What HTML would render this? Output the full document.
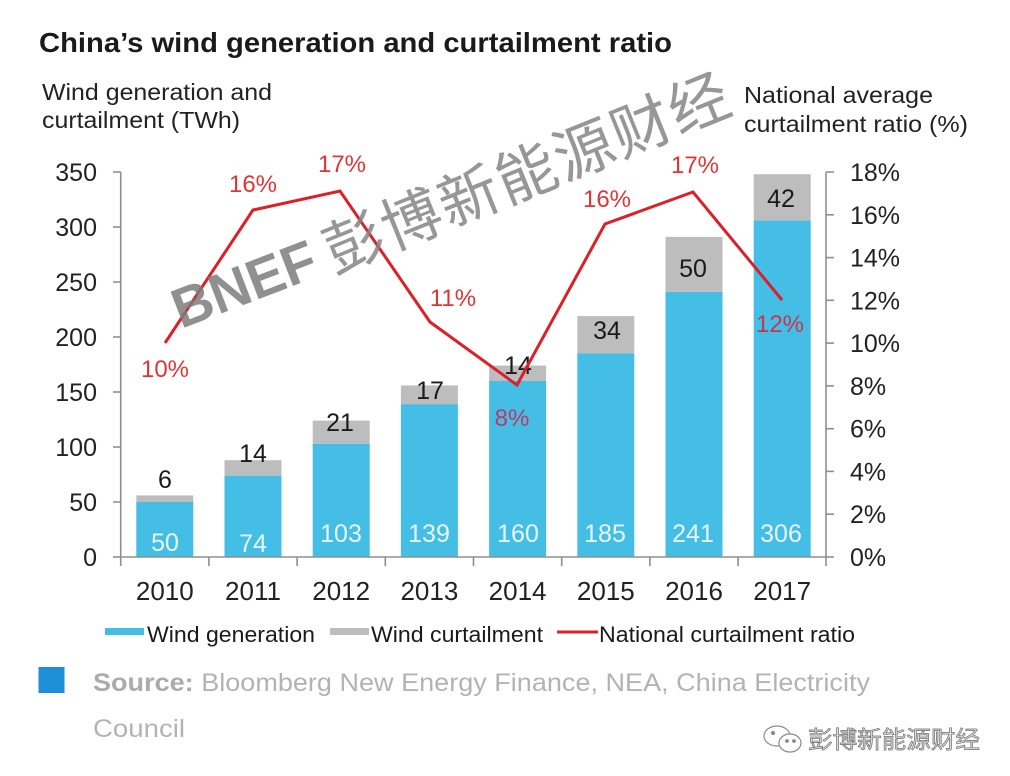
<!DOCTYPE html>
<html>
<head>
<meta charset="utf-8">
<style>
  html,body{margin:0;padding:0;background:#fff;}
  svg{display:block;}
  text{font-family:"Liberation Sans","Noto Sans CJK SC",sans-serif;}
</style>
</head>
<body>
<svg width="1010" height="776" viewBox="0 0 1010 776" xmlns="http://www.w3.org/2000/svg">
  <rect x="0" y="0" width="1010" height="776" fill="#ffffff"/>

  <!-- Title -->
  <text x="39" y="52" font-size="28" font-weight="bold" fill="#1a1a1a" textLength="633" lengthAdjust="spacingAndGlyphs">China’s wind generation and curtailment ratio</text>

  <!-- Axis titles -->
  <text x="42" y="100" font-size="23" fill="#222" textLength="230" lengthAdjust="spacingAndGlyphs">Wind generation and</text>
  <text x="42" y="128" font-size="23" fill="#222" textLength="198" lengthAdjust="spacingAndGlyphs">curtailment (TWh)</text>
  <text x="744" y="103" font-size="23" fill="#222" textLength="189" lengthAdjust="spacingAndGlyphs">National average</text>
  <text x="744" y="132" font-size="23" fill="#222" textLength="224" lengthAdjust="spacingAndGlyphs">curtailment ratio (%)</text>

  <!-- Bars -->
  <g>
    <rect x="136.3" y="502" width="57" height="55" fill="#45bee6"/>
    <rect x="136.3" y="495.4" width="57" height="6.6" fill="#bdbdbd"/>
    <rect x="224.5" y="475.6" width="57" height="81.4" fill="#45bee6"/>
    <rect x="224.5" y="460.2" width="57" height="15.4" fill="#bdbdbd"/>
    <rect x="312.7" y="443.7" width="57" height="113.3" fill="#45bee6"/>
    <rect x="312.7" y="420.6" width="57" height="23.1" fill="#bdbdbd"/>
    <rect x="400.9" y="404.1" width="57" height="152.9" fill="#45bee6"/>
    <rect x="400.9" y="385.4" width="57" height="18.7" fill="#bdbdbd"/>
    <rect x="489.1" y="381" width="57" height="176" fill="#45bee6"/>
    <rect x="489.1" y="365.6" width="57" height="15.4" fill="#bdbdbd"/>
    <rect x="577.3" y="353.5" width="57" height="203.5" fill="#45bee6"/>
    <rect x="577.3" y="316.1" width="57" height="37.4" fill="#bdbdbd"/>
    <rect x="665.5" y="291.9" width="57" height="265.1" fill="#45bee6"/>
    <rect x="665.5" y="236.9" width="57" height="55" fill="#bdbdbd"/>
    <rect x="753.7" y="220.4" width="57" height="336.6" fill="#45bee6"/>
    <rect x="753.7" y="174.2" width="57" height="46.2" fill="#bdbdbd"/>
  </g>

  <!-- Axes -->
  <g stroke="#8f8f8f" stroke-width="1.6" fill="none">
    <line x1="120.7" y1="172" x2="120.7" y2="566"/>
    <line x1="826" y1="172" x2="826" y2="566"/>
    <line x1="120.7" y1="557" x2="826" y2="557"/>
    <line x1="113" y1="557" x2="120.7" y2="557"/>
    <line x1="113" y1="502" x2="120.7" y2="502"/>
    <line x1="113" y1="447" x2="120.7" y2="447"/>
    <line x1="113" y1="392" x2="120.7" y2="392"/>
    <line x1="113" y1="337" x2="120.7" y2="337"/>
    <line x1="113" y1="282" x2="120.7" y2="282"/>
    <line x1="113" y1="227" x2="120.7" y2="227"/>
    <line x1="113" y1="172" x2="120.7" y2="172"/>
    <line x1="826" y1="557" x2="834" y2="557"/>
    <line x1="826" y1="514.2" x2="834" y2="514.2"/>
    <line x1="826" y1="471.4" x2="834" y2="471.4"/>
    <line x1="826" y1="428.7" x2="834" y2="428.7"/>
    <line x1="826" y1="385.9" x2="834" y2="385.9"/>
    <line x1="826" y1="343.1" x2="834" y2="343.1"/>
    <line x1="826" y1="300.3" x2="834" y2="300.3"/>
    <line x1="826" y1="257.6" x2="834" y2="257.6"/>
    <line x1="826" y1="214.8" x2="834" y2="214.8"/>
    <line x1="826" y1="172" x2="834" y2="172"/>
    <line x1="208.9" y1="557" x2="208.9" y2="566"/>
    <line x1="297.1" y1="557" x2="297.1" y2="566"/>
    <line x1="385.3" y1="557" x2="385.3" y2="566"/>
    <line x1="473.5" y1="557" x2="473.5" y2="566"/>
    <line x1="561.7" y1="557" x2="561.7" y2="566"/>
    <line x1="649.9" y1="557" x2="649.9" y2="566"/>
    <line x1="738.1" y1="557" x2="738.1" y2="566"/>
  </g>

  <!-- Left tick labels -->
  <g font-size="25" fill="#222" text-anchor="end">
    <text x="97" y="566">0</text>
    <text x="97" y="511">50</text>
    <text x="97" y="456">100</text>
    <text x="97" y="401">150</text>
    <text x="97" y="346">200</text>
    <text x="97" y="291">250</text>
    <text x="97" y="236">300</text>
    <text x="97" y="181">350</text>
  </g>

  <!-- Right tick labels -->
  <g font-size="25" fill="#222">
    <text x="850" y="566">0%</text>
    <text x="850" y="523.2">2%</text>
    <text x="850" y="480.4">4%</text>
    <text x="850" y="437.7">6%</text>
    <text x="850" y="394.9">8%</text>
    <text x="850" y="352.1">10%</text>
    <text x="850" y="309.3">12%</text>
    <text x="850" y="266.6">14%</text>
    <text x="850" y="223.8">16%</text>
    <text x="850" y="181">18%</text>
  </g>

  <!-- Year labels -->
  <g font-size="26" fill="#222" text-anchor="middle">
    <text x="164.8" y="600">2010</text>
    <text x="253" y="600">2011</text>
    <text x="341.2" y="600">2012</text>
    <text x="429.4" y="600">2013</text>
    <text x="517.6" y="600">2014</text>
    <text x="605.8" y="600">2015</text>
    <text x="694" y="600">2016</text>
    <text x="782.2" y="600">2017</text>
  </g>

  <!-- White generation labels -->
  <g font-size="25" fill="#e8f6fb" text-anchor="middle">
    <text x="165" y="551">50</text>
    <text x="253" y="552">74</text>
    <text x="341" y="542">103</text>
    <text x="429" y="542">139</text>
    <text x="518" y="542">160</text>
    <text x="605" y="542">185</text>
    <text x="693" y="542">241</text>
    <text x="781" y="542">306</text>
  </g>

  <!-- Curtailment labels -->
  <g font-size="25" fill="#1a1a1a" text-anchor="middle">
    <text x="165" y="488">6</text>
    <text x="253" y="462">14</text>
    <text x="340" y="431">21</text>
    <text x="430" y="399">17</text>
    <text x="518" y="374">14</text>
    <text x="607" y="339">34</text>
    <text x="693" y="277">50</text>
    <text x="781" y="207">42</text>
  </g>

  <!-- Ratio line -->
  <polyline points="165,343 253,210 340,191 430,322 517,385 605,224 693,192 782,300" fill="none" stroke="#dd1f26" stroke-width="3" stroke-linejoin="miter"/>

  <!-- Ratio labels -->
  <g font-size="24" fill="#e03535" text-anchor="middle">
    <text x="165" y="377">10%</text>
    <text x="253" y="192">16%</text>
    <text x="342" y="172">17%</text>
    <text x="453" y="306">11%</text>
    <text x="512" y="426" fill="#b83a6a">8%</text>
    <text x="607" y="207">16%</text>
    <text x="695" y="173">17%</text>
    <text x="780" y="332" fill="#c9344f">12%</text>
  </g>

  <!-- Watermark -->
  <g transform="translate(181,329) rotate(-21)" fill="#7d7d7d" opacity="0.85">
    <text x="0" y="0" font-size="56" font-weight="bold" textLength="150" lengthAdjust="spacingAndGlyphs">BNEF</text>
  </g>
  <g transform="translate(334,274) rotate(-22)" fill="#858585" opacity="0.85">
    <text x="0" y="0" font-size="60" font-family="'Noto Sans CJK SC',sans-serif" letter-spacing="2">彭博新能源财经</text>
  </g>

  <!-- Legend -->
  <rect x="105" y="628" width="39" height="7" fill="#45bee6"/>
  <text x="147" y="642" font-size="22" fill="#1a1a1a" textLength="168" lengthAdjust="spacingAndGlyphs">Wind generation</text>
  <rect x="330" y="628" width="39" height="7" fill="#bdbdbd"/>
  <text x="371" y="642" font-size="22" fill="#1a1a1a" textLength="172" lengthAdjust="spacingAndGlyphs">Wind curtailment</text>
  <line x1="557" y1="632" x2="598" y2="632" stroke="#dd1f26" stroke-width="3"/>
  <text x="599" y="642" font-size="22" fill="#1a1a1a" textLength="256" lengthAdjust="spacingAndGlyphs">National curtailment ratio</text>

  <!-- Source -->
  <rect x="38.5" y="667" width="26" height="26" fill="#1c8fd6"/>
  <text x="93" y="691" font-size="25" fill="#b3b3b3" textLength="777" lengthAdjust="spacingAndGlyphs"><tspan font-weight="bold" fill="#ababab">Source:</tspan> Bloomberg New Energy Finance, NEA, China Electricity</text>
  <text x="93" y="737" font-size="25" fill="#b3b3b3" textLength="92" lengthAdjust="spacingAndGlyphs">Council</text>

  <!-- WeChat mark -->
  <g fill="none" stroke="#8a8a8a" stroke-width="1.2">
    <ellipse cx="777" cy="736" rx="13" ry="10"/>
    <ellipse cx="790" cy="743" rx="11" ry="9" fill="#fff"/>
    <circle cx="773" cy="733" r="1.5" fill="#8a8a8a"/>
    <circle cx="787" cy="741" r="1.3" fill="#8a8a8a"/>
    <circle cx="794" cy="741" r="1.3" fill="#8a8a8a"/>
  </g>
  <text x="808" y="748" font-size="24" font-family="'Noto Sans CJK SC',sans-serif" fill="#dcdcdc" stroke="#6e6e6e" stroke-width="0.7" textLength="172" lengthAdjust="spacingAndGlyphs">彭博新能源财经</text>
</svg>
</body>
</html>
